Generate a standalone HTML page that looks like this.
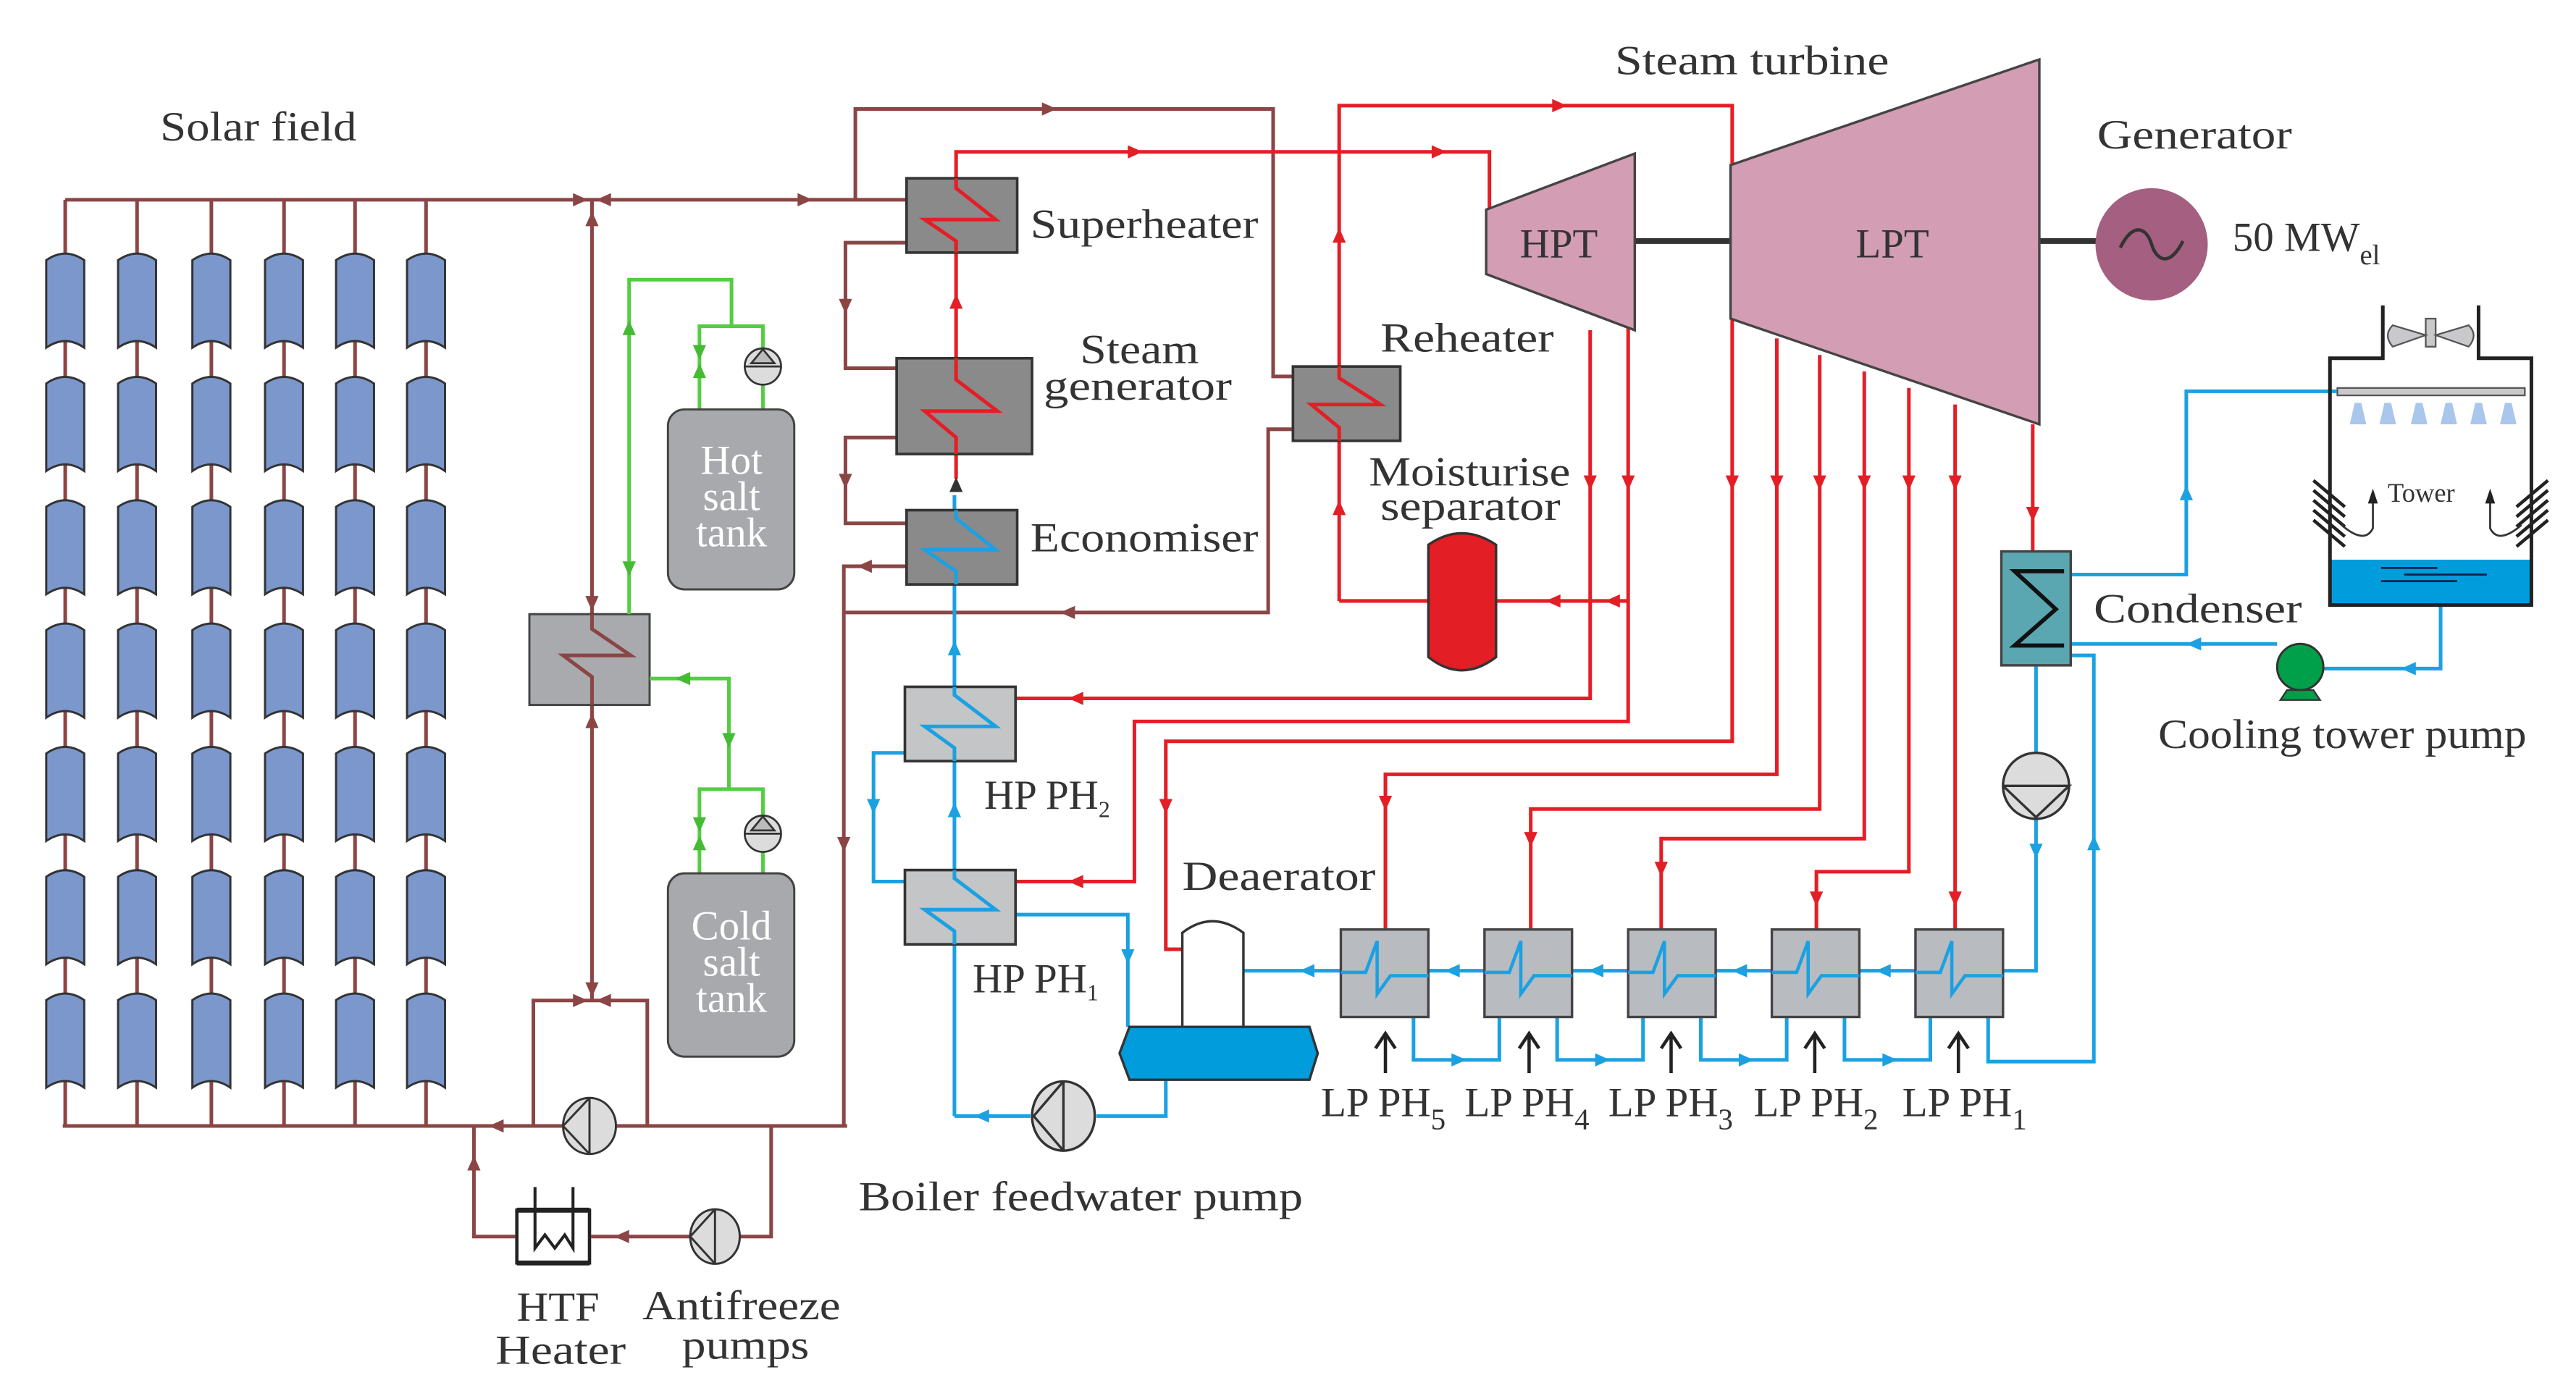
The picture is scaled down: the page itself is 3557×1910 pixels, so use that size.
<!DOCTYPE html>
<html><head><meta charset="utf-8"><style>
html,body{margin:0;padding:0;background:#fff;}
svg{display:block;}
text{font-family:"Liberation Serif",serif;fill:#333;}
</style></head><body>
<svg width="3557" height="1910" viewBox="0 0 1560 837.7" preserveAspectRatio="none" xmlns="http://www.w3.org/2000/svg">
<defs>
<path id="ar" d="M4,0 L-5,-4 L-5,4Z"/>
<path id="col" d="M0,5 Q11.5,-3 23,5 L23,58 Q11.5,50 0,58 Z" fill="#7b97cc" stroke="#333" stroke-width="1.3"/>
</defs>
<rect width="1560" height="837.7" fill="#fff"/>

<!-- ============ BROWN (HTF) ============ -->
<g fill="none" stroke="#8b4545" stroke-width="2.2">
<path d="M39.5,121 H549"/>
<path d="M518,121 V66 H771 V228 H783"/>
<path d="M39.5,121 V682 M83,121 V682 M128,121 V682 M172,121 V682 M215,121 V682 M258,121 V682"/>
<path d="M358.5,121 V606"/>
<path d="M323,682 V606 H392 V682"/>
<path d="M38,682 H513"/>
<path d="M549,147 H512 V223 H543"/>
<path d="M543,265 H512 V317 H549"/>
<path d="M549,343 H511 V682"/>
<path d="M511,371 H768 V260 H783"/>
<path d="M287,682 V749 H312 M358,749 H418 M448,749 H467 V682"/>
</g>
<g fill="#8b4545">
<use href="#ar" transform="translate(636,66)"/>
<use href="#ar" transform="translate(352,121)"/>
<use href="#ar" transform="translate(365,121) rotate(180)"/>
<use href="#ar" transform="translate(488,121)"/>
<use href="#ar" transform="translate(358.5,132) rotate(-90)"/>
<use href="#ar" transform="translate(358.5,366) rotate(90)"/>
<use href="#ar" transform="translate(358.5,436) rotate(-90)"/>
<use href="#ar" transform="translate(358.5,600) rotate(90)"/>
<use href="#ar" transform="translate(352,606)"/>
<use href="#ar" transform="translate(365,606) rotate(180)"/>
<use href="#ar" transform="translate(300,682) rotate(180)"/>
<use href="#ar" transform="translate(287,704) rotate(-90)"/>
<use href="#ar" transform="translate(376,749) rotate(180)"/>
<use href="#ar" transform="translate(512,186) rotate(90)"/>
<use href="#ar" transform="translate(512,292) rotate(90)"/>
<use href="#ar" transform="translate(523,343) rotate(180)"/>
<use href="#ar" transform="translate(511,512) rotate(90)"/>
<use href="#ar" transform="translate(646,371) rotate(180)"/>
</g>

<!-- collectors -->
<g>
<g id="r1"><use href="#col" x="28" y="152.6"/><use href="#col" x="71.5" y="152.6"/><use href="#col" x="116.5" y="152.6"/><use href="#col" x="160.5" y="152.6"/><use href="#col" x="203.5" y="152.6"/><use href="#col" x="246.5" y="152.6"/></g>
<use href="#r1" y="74.7"/><use href="#r1" y="149.4"/><use href="#r1" y="224.1"/><use href="#r1" y="298.8"/><use href="#r1" y="373.5"/><use href="#r1" y="448.2"/>
</g>

<!-- HTF/salt HX -->
<rect x="320.6" y="372" width="72.8" height="55" fill="#a9aaae" stroke="#444" stroke-width="1.3"/>
<polyline points="358.5,372 358.5,381 382,397 341,397 358.5,410 358.5,427" fill="none" stroke="#8b4545" stroke-width="2.2"/>

<!-- Green loops -->
<g fill="none" stroke="#55cc44" stroke-width="2.2">
<path d="M381,372 V169.4 H443 V197.6 M423.6,248 V197.6 H462 V211"/>
<path d="M462,233 V248"/>
<path d="M393.4,411 H441.4 V478 M423.6,529 V478 H462 V494 M462,516 V529"/>
</g>
<g fill="#44bb33">
<use href="#ar" transform="translate(381,198) rotate(-90)"/>
<use href="#ar" transform="translate(381,345) rotate(90)"/>
<use href="#ar" transform="translate(423.6,214) rotate(90)"/>
<use href="#ar" transform="translate(423.6,224) rotate(-90)"/>
<use href="#ar" transform="translate(413,411) rotate(180)"/>
<use href="#ar" transform="translate(441.4,449) rotate(90)"/>
<use href="#ar" transform="translate(423.6,500) rotate(90)"/>
<use href="#ar" transform="translate(423.6,510) rotate(-90)"/>
</g>
<g stroke="#333" stroke-width="1.2">
<circle cx="462" cy="222" r="11" fill="#dcdcdc"/><path d="M451,222 H473 M455,220 L462,211.5 L469,220 Z" fill="#bbb"/>
<circle cx="462" cy="505" r="11" fill="#dcdcdc"/><path d="M451,505 H473 M455,503 L462,494.5 L469,503 Z" fill="#bbb"/>
</g>
<rect x="404.5" y="248" width="76.5" height="109" rx="10" fill="#a8a9ad" stroke="#444" stroke-width="1.3"/>
<rect x="404.5" y="529" width="76.5" height="111" rx="10" fill="#a8a9ad" stroke="#444" stroke-width="1.3"/>
<g font-size="25" text-anchor="middle" style="fill:#fff">
<text x="443" y="287" style="fill:#fff">Hot</text><text x="443" y="309" style="fill:#fff">salt</text><text x="443" y="331" style="fill:#fff">tank</text>
<text x="443" y="569" style="fill:#fff">Cold</text><text x="443" y="591" style="fill:#fff">salt</text><text x="443" y="613" style="fill:#fff">tank</text>
</g>

<!-- pumps brown -->
<g stroke="#333" stroke-width="1.3" fill="#dcdcdc">
<ellipse cx="357" cy="682" rx="16" ry="17"/><path d="M357,665 V699 M357,665 L341,682 L357,699" fill="none"/>
<ellipse cx="433" cy="749" rx="15" ry="16.5"/><path d="M433,732.5 V765.5 M433,732.5 L418,749 L433,765.5" fill="none"/>
</g>
<!-- HTF heater -->
<rect x="313" y="733" width="44" height="32" fill="#fff" stroke="#222" stroke-width="2"/>
<path d="M313,733 H357" stroke="#222" stroke-width="3"/>
<path d="M313,765 H357" stroke="#222" stroke-width="3"/>
<path d="M324,719 V756 L330,748 L336,756 L342,748 L347,756 V719" fill="none" stroke="#222" stroke-width="1.8"/>

<!-- ============ RED ============ -->
<g fill="none" stroke="#e41e26" stroke-width="2.2">
<path d="M579,290 V92 H902 V127"/>
<path d="M811,364 V64 H1049 V100"/>
<path d="M811,364 H865 M906,364 H986"/>
<path d="M963,200 V423 H615"/>
<path d="M986,198 V437 H687 V534 H615"/>
<path d="M1049,193 V449 H706 V575 H716"/>
<path d="M1076,205 V469 H839 V563"/>
<path d="M1102,215 V490 H927 V563"/>
<path d="M1129,225 V508 H1006 V563"/>
<path d="M1156,235 V528 H1100 V563"/>
<path d="M1184,245 V563"/>
<path d="M1231,257 V334"/>
</g>
<g fill="#e41e26">
<use href="#ar" transform="translate(579,182) rotate(-90)"/>
<use href="#ar" transform="translate(688,92)"/>
<use href="#ar" transform="translate(872,92)"/>
<use href="#ar" transform="translate(945,64)"/>
<use href="#ar" transform="translate(811,142) rotate(-90)"/>
<use href="#ar" transform="translate(811,307) rotate(-90)"/>
<use href="#ar" transform="translate(940,364) rotate(180)"/>
<use href="#ar" transform="translate(976,364) rotate(180)"/>
<use href="#ar" transform="translate(963,293) rotate(90)"/>
<use href="#ar" transform="translate(986,293) rotate(90)"/>
<use href="#ar" transform="translate(1049,293) rotate(90)"/>
<use href="#ar" transform="translate(1076,293) rotate(90)"/>
<use href="#ar" transform="translate(1102,293) rotate(90)"/>
<use href="#ar" transform="translate(1129,293) rotate(90)"/>
<use href="#ar" transform="translate(1156,293) rotate(90)"/>
<use href="#ar" transform="translate(1184,293) rotate(90)"/>
<use href="#ar" transform="translate(1231,312) rotate(90)"/>
<use href="#ar" transform="translate(651,423) rotate(180)"/>
<use href="#ar" transform="translate(651,534) rotate(180)"/>
<use href="#ar" transform="translate(706,489) rotate(90)"/>
<use href="#ar" transform="translate(839,487) rotate(90)"/>
<use href="#ar" transform="translate(927,509) rotate(90)"/>
<use href="#ar" transform="translate(1006,527) rotate(90)"/>
<use href="#ar" transform="translate(1100,545) rotate(90)"/>
<use href="#ar" transform="translate(1184,545) rotate(90)"/>
</g>

<!-- ============ BLUE ============ -->
<g fill="none" stroke="#1ba1e2" stroke-width="2.2">
<path d="M578,676 V300"/>
<path d="M548,456 H529 V534 H548"/>
<path d="M615,554 H683 V622"/>
<path d="M706,654 V676 H664 M624,676 H578"/>
<path d="M753,588 H1233 V496"/>
<path d="M1233,403 V456"/>
<path d="M856,616 V642 H908 V616 M943,616 V642 H995 V616 M1030,616 V642 H1082 V616 M1117,616 V642 H1169 V616 M1204,616 V643 H1268 V397 H1254"/>
<path d="M1254,348 H1324 V237 H1415"/>
<path d="M1254,390 H1379 M1407,405 H1478 V366"/>
</g>
<g fill="#1ba1e2">
<use href="#ar" transform="translate(578,392) rotate(-90)"/>
<use href="#ar" transform="translate(578,490) rotate(-90)"/>
<use href="#ar" transform="translate(529,489) rotate(90)"/>
<use href="#ar" transform="translate(683,580) rotate(90)"/>
<use href="#ar" transform="translate(594,676) rotate(180)"/>
<use href="#ar" transform="translate(791,588) rotate(180)"/>
<use href="#ar" transform="translate(879,588) rotate(180)"/>
<use href="#ar" transform="translate(966,588) rotate(180)"/>
<use href="#ar" transform="translate(1053,588) rotate(180)"/>
<use href="#ar" transform="translate(1140,588) rotate(180)"/>
<use href="#ar" transform="translate(884,642)"/>
<use href="#ar" transform="translate(971,642)"/>
<use href="#ar" transform="translate(1058,642)"/>
<use href="#ar" transform="translate(1145,642)"/>
<use href="#ar" transform="translate(1268,510) rotate(-90)"/>
<use href="#ar" transform="translate(1233,516) rotate(90)"/>
<use href="#ar" transform="translate(1324,298) rotate(-90)"/>
<use href="#ar" transform="translate(1328,390) rotate(180)"/>
<use href="#ar" transform="translate(1458,405) rotate(180)"/>
</g>
<use href="#ar" transform="translate(579,293) rotate(-90)" fill="#333"/>

<!-- ============ Boxes ============ -->
<g stroke="#333" stroke-width="1.6">
<rect x="549" y="108" width="67" height="45" fill="#8a8a8a"/>
<rect x="543" y="217" width="82" height="58" fill="#8a8a8a"/>
<rect x="549" y="309" width="67" height="45" fill="#8a8a8a"/>
<rect x="783" y="222" width="65" height="45" fill="#8a8a8a"/>
<rect x="548" y="416" width="67" height="45" fill="#c4c5c6"/>
<rect x="548" y="527" width="67" height="45" fill="#c4c5c6"/>
</g>
<g fill="none" stroke-width="2.2">
<polyline points="579,108 579,114 603,133 560,133 579,146 579,153" stroke="#e41e26"/>
<polyline points="579,217 579,230 604,249 560,249 579,265 579,275" stroke="#e41e26"/>
<polyline points="579,309 579,314 603,333 560,333 579,346 579,354" stroke="#1ba1e2"/>
<polyline points="811,222 811,229 836,245 794,245 811,259 811,267" stroke="#e41e26"/>
<polyline points="578,416 578,421 603,440 560,440 578,453 578,461" stroke="#1ba1e2"/>
<polyline points="578,527 578,532 603,551 560,551 578,564 578,572" stroke="#1ba1e2"/>
</g>

<!-- LP PH boxes -->
<g id="lp">
<rect x="812" y="563" width="53" height="53" fill="#b8bbc0" stroke="#444" stroke-width="1.5"/>
<polyline points="812,589 827,589 834,570 834,602 842,591 865,591" fill="none" stroke="#1ba1e2" stroke-width="2"/>
</g>
<use href="#lp" x="87"/><use href="#lp" x="174"/><use href="#lp" x="261"/><use href="#lp" x="348"/>

<!-- black arrows LP -->
<g stroke="#222" stroke-width="2" fill="none">
<path d="M839,650 V627 M833,635 L839,626 L845,635"/>
<path d="M926,650 V627 M920,635 L926,626 L932,635"/>
<path d="M1012,650 V627 M1006,635 L1012,626 L1018,635"/>
<path d="M1099,650 V627 M1093,635 L1099,626 L1105,635"/>
<path d="M1186,650 V627 M1180,635 L1186,626 L1192,635"/>
</g>

<!-- Deaerator -->
<path d="M716,622 V565 Q734,551 753,565 V622 Z" fill="#fff" stroke="#333" stroke-width="1.5"/>
<path d="M684,622 H793 L798,638 L793,654 H684 L678,638 Z" fill="#009cdc" stroke="#333" stroke-width="1.5"/>
<!-- feedwater pump -->
<ellipse cx="644" cy="676" rx="19" ry="21" fill="#dcdcdc" stroke="#333" stroke-width="1.5"/>
<path d="M644,655 V697 M644,655 L626,676 L644,697" fill="none" stroke="#333" stroke-width="1.5"/>
<!-- condensate pump -->
<circle cx="1233" cy="476" r="20" fill="#dcdcdc" stroke="#333" stroke-width="1.5"/>
<path d="M1213,476 H1253 L1233,495 L1213,476" fill="none" stroke="#333" stroke-width="1.5"/>

<!-- separator -->
<path d="M865,330 Q885,316 906,330 V398 Q885,414 865,398 Z" fill="#e31e24" stroke="#333" stroke-width="1.5"/>

<!-- Turbines -->
<line x1="990" y1="146" x2="1048" y2="146" stroke="#333" stroke-width="3.5"/>
<line x1="1235" y1="146" x2="1275" y2="146" stroke="#333" stroke-width="3.5"/>
<polygon points="900,127 990,93 990,200 900,166" fill="#d39db4" stroke="#444" stroke-width="1.5"/>
<polygon points="1048,100 1235,36 1235,257 1048,193" fill="#d39db4" stroke="#444" stroke-width="1.5"/>
<circle cx="1303" cy="148" r="34" fill="#a55f80"/>
<path d="M1284,150 C1292,134 1300,138 1303,148 C1306,158 1314,162 1322,146" fill="none" stroke="#333" stroke-width="2"/>

<!-- Condenser -->
<rect x="1212" y="334" width="42" height="69" fill="#5aa6b1" stroke="#444" stroke-width="1.5"/>
<polyline points="1250,346 1220,346 1245,369 1220,391 1250,391" fill="none" stroke="#111" stroke-width="2.5"/>
<!-- cooling tower pump -->
<circle cx="1393" cy="404" r="14" fill="#00a04a" stroke="#333" stroke-width="1.3"/>
<path d="M1385,418 L1381,424 H1405 L1401,418 Z" fill="#00a04a" stroke="#333" stroke-width="1"/>

<!-- Tower -->
<rect x="1411" y="339" width="122" height="27.5" fill="#009cdc"/>
<path d="M1443,185 V217 H1411 V366.5 H1533 V217 H1501 V185" fill="none" stroke="#222" stroke-width="2.2"/>
<g stroke="#124" stroke-width="1.2"><path d="M1442,344 H1476 M1456,348 H1506 M1442,352 H1488"/></g>
<g fill="#c9c9cb" stroke="#555" stroke-width="1">
<rect x="1469" y="193" width="6" height="17"/>
<path d="M1469,203 L1449,197 Q1443,203 1449,210 Z M1475,203 L1495,197 Q1501,203 1495,210 Z"/>
<rect x="1415.5" y="235" width="113.5" height="4.5"/>
</g>
<g fill="#a9c6ec">
<path d="M1423,257 L1426,244 L1430,244 L1433,257Z"/><path d="M1441,257 L1444,244 L1448,244 L1451,257Z"/>
<path d="M1460,257 L1463,244 L1467,244 L1470,257Z"/><path d="M1478,257 L1481,244 L1485,244 L1488,257Z"/>
<path d="M1496,257 L1499,244 L1503,244 L1506,257Z"/><path d="M1514,257 L1517,244 L1521,244 L1524,257Z"/>
</g>
<g stroke="#222" stroke-width="2">
<path d="M1401,291 L1420,307 M1401,297 L1420,313 M1401,303 L1420,319 M1401,309 L1420,325 M1401,315 L1420,331"/>
<path d="M1543,291 L1524,307 M1543,297 L1524,313 M1543,303 L1524,319 M1543,309 L1524,325 M1543,315 L1524,331"/>
</g>
<g fill="none" stroke="#333" stroke-width="1.2">
<path d="M1418,318 Q1432,330 1437,320 L1437,303"/><path d="M1527,318 Q1513,330 1508,320 L1508,303"/>
</g>
<path d="M1437,296 L1434,305 H1440Z M1508,296 L1505,305 H1511Z" fill="#222"/>

<!-- ============ Labels ============ -->
<g font-size="25">
<text x="97" y="85" textLength="119" lengthAdjust="spacingAndGlyphs">Solar field</text>
<text x="624" y="144" textLength="138" lengthAdjust="spacingAndGlyphs">Superheater</text>
<text x="654" y="220" textLength="72" lengthAdjust="spacingAndGlyphs">Steam</text>
<text x="632" y="242" textLength="114" lengthAdjust="spacingAndGlyphs">generator</text>
<text x="624" y="334" textLength="138" lengthAdjust="spacingAndGlyphs">Economiser</text>
<text x="978" y="45" textLength="166" lengthAdjust="spacingAndGlyphs">Steam turbine</text>
<text x="1270" y="90" textLength="118" lengthAdjust="spacingAndGlyphs">Generator</text>
<text x="944" y="156" text-anchor="middle">HPT</text>
<text x="1146" y="156" text-anchor="middle">LPT</text>
<text x="1352" y="152">50 MW<tspan font-size="17" dy="8">el</tspan></text>
<text x="836" y="213" textLength="105" lengthAdjust="spacingAndGlyphs">Reheater</text>
<text x="829" y="294" textLength="122" lengthAdjust="spacingAndGlyphs">Moisturise</text>
<text x="836" y="315" textLength="109" lengthAdjust="spacingAndGlyphs">separator</text>
<text x="1268" y="377" textLength="126" lengthAdjust="spacingAndGlyphs">Condenser</text>
<text x="1307" y="453" textLength="223" lengthAdjust="spacingAndGlyphs">Cooling tower pump</text>
<text x="716" y="539" textLength="117" lengthAdjust="spacingAndGlyphs">Deaerator</text>
<text x="596" y="490">HP PH<tspan font-size="14" dy="5">2</tspan></text>
<text x="589" y="601">HP PH<tspan font-size="14" dy="5">1</tspan></text>
<text x="520" y="733" textLength="269" lengthAdjust="spacingAndGlyphs">Boiler feedwater pump</text>
<text x="313" y="800" textLength="50" lengthAdjust="spacingAndGlyphs">HTF</text>
<text x="300" y="826" textLength="79" lengthAdjust="spacingAndGlyphs">Heater</text>
<text x="389" y="799" textLength="120" lengthAdjust="spacingAndGlyphs">Antifreeze</text>
<text x="413" y="823" textLength="77" lengthAdjust="spacingAndGlyphs">pumps</text>
<text x="800" y="676">LP PH<tspan font-size="18" dy="8">5</tspan></text>
<text x="887" y="676">LP PH<tspan font-size="18" dy="8">4</tspan></text>
<text x="974" y="676">LP PH<tspan font-size="18" dy="8">3</tspan></text>
<text x="1062" y="676">LP PH<tspan font-size="18" dy="8">2</tspan></text>
<text x="1152" y="676">LP PH<tspan font-size="18" dy="8">1</tspan></text>
</g>
<text x="1446" y="304" font-size="16">Tower</text>
</svg>
</body></html>
